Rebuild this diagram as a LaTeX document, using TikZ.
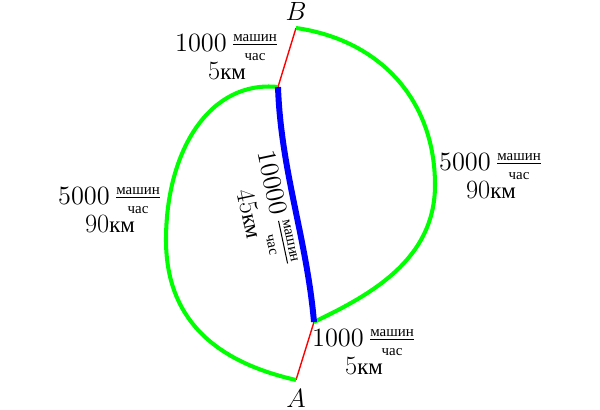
\documentclass[tikz,border=0pt]{standalone}
\usepackage{fix-cm}
\usepackage{amsmath}
\usepackage{fontspec}
\newfontfamily\cyr{Liberation Serif}
\newcommand{\smallcyr}[1]{\hbox{\fontsize{8.5}{9}\selectfont\cyr #1}}
\newcommand{\flowlabel}[2]{$#1\,\frac{\smallcyr{машин}}{\smallcyr{час}}$\\#2{\fontsize{13}{15}\selectfont\cyr км}}
\tikzset{
  road/.style={green, line width=2.3pt},
  fastroad/.style={blue, line width=3.4pt},
  link/.style={red, line width=0.8pt},
  flow/.style={align=center, inner sep=1pt, font=\fontsize{15}{16}\selectfont}
}
\begin{document}
\begin{tikzpicture}
  \useasboundingbox (0,0) rectangle (12,8.2);
  \draw
    (5.92,7.64) coordinate (B)
    (5.56,6.46) coordinate (u)
    (6.28,1.76) coordinate (l)
    (5.92,0.60) coordinate (A);
  \node[flow] (nameB) at (5.92,7.96) {$B$};
  \node[flow] (nameA) at (5.92,0.24) {$A$};
  \begin{scope}[-]
    \draw[link] (B) to (u);
    \draw[link] (l) to (A);
    \draw[road] (u) .. controls (4.2,6.6) and (3.32,5.2) .. (3.32,3.4)
                    .. controls (3.32,1.6) and (4.6,0.9) .. (A);
    \draw[road] (B) .. controls (7.6,7.4) and (8.7,6.2) .. (8.7,4.5)
                    .. controls (8.7,3.0) and (7.4,2.3) .. (l);
    \draw[fastroad] (u) to[out=-88, in=95, looseness=0.9] (l);
  \end{scope}
  \node[flow] (topflow) at (4.54,7.06) {\flowlabel{1000}{5}};
  \node[flow] (rightflow) at (9.82,4.68) {\flowlabel{5000}{90}};
  \node[flow] (leftflow) at (2.2,4.0) {\flowlabel{5000}{90}};
  \node[flow] (bottomflow) at (7.28,1.16) {\flowlabel{1000}{5}};
  \node[flow, rotate=-78] (midflow) at (5.28,3.98) {\flowlabel{10000}{45}};
\end{tikzpicture}
\end{document}
